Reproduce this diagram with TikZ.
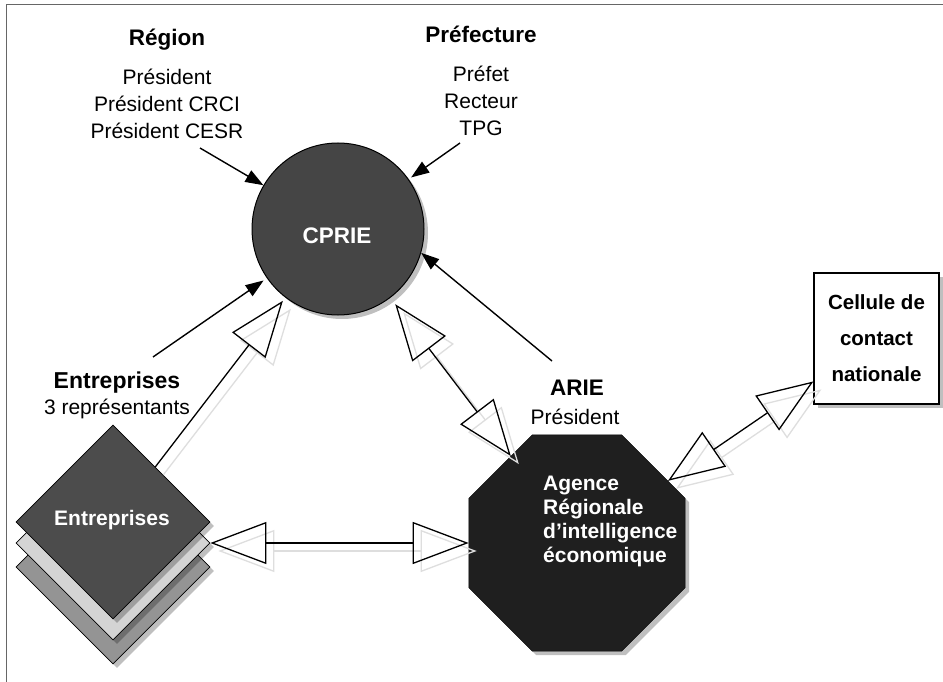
\documentclass[tikz,border=0pt]{standalone}
\usepackage{fontspec}
\setmainfont{Liberation Sans}
\usetikzlibrary{shapes.geometric, arrows.meta, shadows, calc}
\tikzset{openhead/.tip={Triangle[open, length=56pt, width=42pt, line width=1.3pt]}}
\begin{document}
\begin{tikzpicture}[x=1pt, y=-1pt,
  reg/.style={font=\fontsize{21}{27}\selectfont, align=center, inner sep=0},
  ttl/.style={font=\fontsize{22.5}{27}\selectfont\bfseries, align=center, inner sep=0},
  shad/.style={drop shadow={shadow xshift=4pt, shadow yshift=-4pt, opacity=0.25, fill=black}},
  fillarrow/.style={line width=1.4pt, -{Triangle[length=18pt,width=13pt]}},
  link/.style={line width=1.3pt, preaction={draw=black!13, line width=1.3pt, transform canvas={shift={(8pt,-8pt)}}}},
  dia/.style={diamond, aspect=1, minimum size=194pt, inner sep=0, draw=black, line width=0.8pt, shad},
]
\useasboundingbox (0,0) rectangle (943,682);
\fill[white] (0,0) rectangle (943,682);
\draw[line width=1pt, black!60] (6,682) -- (6,5) -- (943,5);

% top labels
\node[ttl] (regt) at (167,40) {Région};
\node[reg] (regl) at (167,104) {Président\\Président CRCI\\Président CESR};
\node[ttl] (preft) at (481,34) {Préfecture};
\node[reg] (prefl) at (481,101) {Préfet\\Recteur\\TPG};

% CPRIE
\node[circle, fill=black!73, draw=black, line width=1pt, minimum size=172pt, inner sep=0, shad] (cprie) at (338,229) {};
\node[text=white, font=\fontsize{22.5}{27}\selectfont\bfseries, inner sep=0] (cpriet) at (337,236) {CPRIE};

% Entreprises stack
\node[dia, fill=black!42] (ent3) at (113,567) {};
\node[dia, fill=black!17] (ent2) at (113,543) {};
\node[dia, fill=black!70] (ent1) at (113,522) {};
\node[text=white, font=\fontsize{21}{27}\selectfont\bfseries, inner sep=0] (entt) at (112,520) {Entreprises};
\node[font=\fontsize{23}{27}\selectfont\bfseries, inner sep=0] (entl) at (117,383) {Entreprises};
\node[reg] (entr) at (117,409) {3 représentants};

% ARIE octagon
\node[regular polygon, regular polygon sides=8, minimum size=234pt, inner sep=0,
      fill=black!88, draw=black, shad] (arie) at (577,543) {};
\node[text=white, font=\fontsize{21}{24}\selectfont\bfseries, align=left, anchor=west, inner sep=0]
      (ariet) at (543,521) {Agence\\Régionale\\d'intelligence\\économique};
\node[ttl] (ariel) at (577,388) {ARIE};
\node[reg] (ariep) at (575,417) {Président};

% Cellule
\node[draw=black, line width=1.3pt, fill=white, minimum width=125pt, minimum height=131pt, inner sep=0, shad,
      align=center, font=\fontsize{20.5}{36}\selectfont\bfseries] (cell) at (876.5,338.5) {Cellule de\\contact\\nationale};

% open double arrows
\draw[link, -{openhead}, shorten >=4pt] (ent1) -- (cprie);
\draw[link, {openhead}-{openhead}, shorten <=8pt] (cprie) -- (arie);
\draw[link, {openhead}-{openhead}] (ent2.east) -- (arie.west);
\draw[link, {openhead}-{openhead}] (arie) -- (cell);

% filled arrows
\coordinate (rs) at (200,148);
\coordinate (ps) at (460,143);
\coordinate (es) at (153,357);
\coordinate (as) at (552,361);
\draw[fillarrow] (rs) -- (cprie);
\draw[fillarrow, shorten >=3pt] (ps) -- (cprie);
\draw[fillarrow, shorten >=4pt] (es) -- (cprie);
\draw[fillarrow] (as) -- (cprie.-16);
\end{tikzpicture}
\end{document}
